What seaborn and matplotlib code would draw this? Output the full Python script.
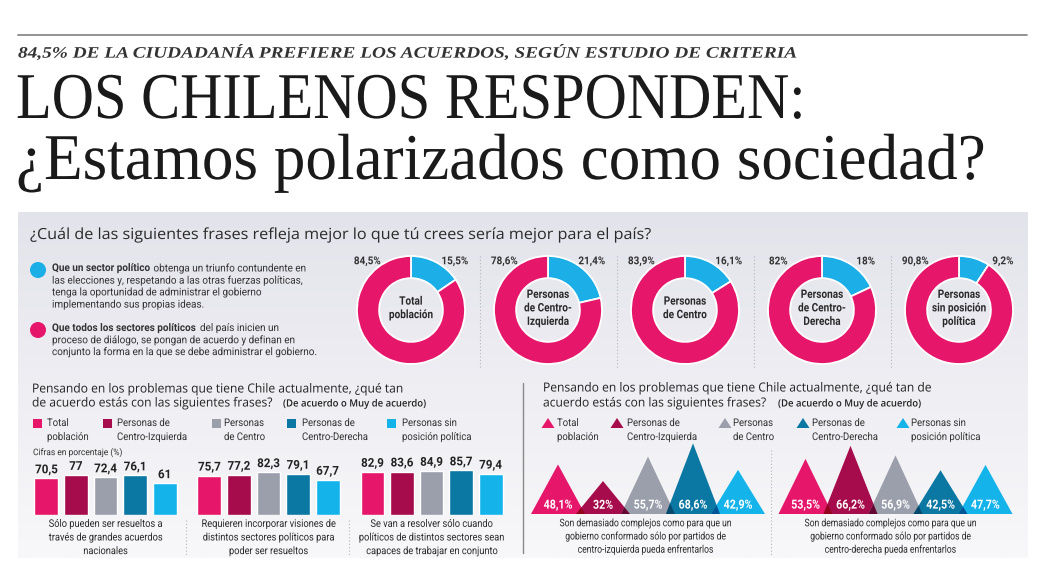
import numpy as np
import pandas as pd
import seaborn as sns
import matplotlib
matplotlib.use("Agg")
import matplotlib.pyplot as plt
import matplotlib.patheffects as pe
from matplotlib.font_manager import FontProperties
from matplotlib.transforms import Affine2D, blended_transform_factory
from matplotlib.patches import Polygon, Rectangle, Circle
from matplotlib.colors import LinearSegmentedColormap, to_rgb

# ---- datos ----
segmentos = ["Total población", "Personas de Centro-Izquierda", "Personas de Centro",
             "Personas de Centro-Derecha", "Personas sin posición política"]
leyenda = ["Total\npoblación", "Personas de\nCentro-Izquierda", "Personas\nde Centro",
           "Personas de\nCentro-Derecha", "Personas sin\nposición política"]
dona_centro = ["Total\npoblación", "Personas\nde Centro-\nIzquierda", "Personas\nde Centro",
               "Personas\nde Centro-\nDerecha", "Personas\nsin posición\npolítica"]
dona_acuerdos = [84.5, 78.6, 83.9, 82, 90.8]
dona_triunfo = [15.5, 21.4, 16.1, 18, 9.2]

frases_barras = ["Sólo pueden ser resueltos a\ntravés de grandes acuerdos\nnacionales",
                 "Requieren incorporar visiones de\ndistintos sectores políticos para\npoder ser resueltos",
                 "Se van a resolver sólo cuando\npolíticos de distintos sectores sean\ncapaces de trabajar en conjunto"]
barras = [[70.5, 77, 72.4, 76.1, 61],
          [75.7, 77.2, 82.3, 79.1, 67.7],
          [82.9, 83.6, 84.9, 85.7, 79.4]]

frases_triang = ["Son demasiado complejos como para que un\ngobierno conformado sólo por partidos de\ncentro-izquierda pueda enfrentarlos",
                 "Son demasiado complejos como para que un\ngobierno conformado sólo por partidos de\ncentro-derecha pueda enfrentarlos"]
triang = [[48.1, 32, 55.7, 68.6, 42.9],
          [53.5, 66.2, 56.9, 42.5, 47.7]]

COL = ["#e6176b", "#a60b4b", "#9b9fac", "#0b77a3", "#14b4ea"]
PINK, CYAN = "#e6176b", "#1caee6"
DARK = "#222222"

SERIF = ["Liberation Serif", "DejaVu Serif"]
SANS = ["Open Sans", "DejaVu Sans"]
COND = ["Roboto", "DejaVu Sans"]


def pct(v):
    s = f"{v:.1f}"
    if s.endswith(".0"):
        s = s[:-2]
    return s.replace(".", ",")


class Stretch(pe.AbstractPathEffect):
    # alarga el texto en vertical sobre su linea base: letra "condensada"
    def __init__(self, sy):
        super().__init__()
        self.sy = sy

    def draw_path(self, renderer, gc, tpath, affine, rgbFace=None):
        y0 = affine.get_matrix()[1, 2]
        t = affine + Affine2D().translate(0, -y0).scale(1, self.sy).translate(0, y0)
        renderer.draw_path(gc, tpath, t, rgbFace)


sns.set_theme(style="white")
plt.rcParams["font.family"] = SANS

W, H = 1042, 561
fig = plt.figure(figsize=(W / 100, H / 100), dpi=100)
fig.patch.set_facecolor("white")
R = fig.canvas.get_renderer()

bg = fig.add_axes([0, 0, 1, 1])
grad = np.linspace(0, 1, 256)[:, None]
cmap = LinearSegmentedColormap.from_list("panel", ["#e3e3eb", "#eeeef3", "#f8f8fa"])
bg.imshow(grad, extent=[18, 1028, 558, 212], cmap=cmap, aspect="auto", zorder=0)
bg.set_xlim(0, W)
bg.set_ylim(H, 0)
bg.axis("off")


def squeeze_for(s, size, target, fam=COND, **kw):
    t = bg.text(0, 0, s, fontsize=size, family=fam, **kw)
    w = t.get_window_extent(R).width
    t.remove()
    return target / w


def spacing(pitch, size, fam, weight="normal"):
    # interlineado de matplotlib que da 'pitch' px entre lineas
    _, h, d = R.get_text_width_height_descent("lp", FontProperties(family=fam, size=size, weight=weight), ismath=False)
    return pitch / (h - d)


def txt(x, y, s, size, fam=SANS, w=None, sq=1.0, ha="left", va="center", ax=None, pitch=None, **kw):
    # size = cuerpo visual; sq < 1 estrecha la letra (cuerpo menor + estiramiento vertical)
    ax = ax or bg
    kw.setdefault("color", DARK)
    if w is not None:
        sq = squeeze_for(s, size, w, fam=fam, **{k: v for k, v in kw.items() if k in ("weight", "style")})
    if pitch is not None:
        kw["linespacing"] = spacing(pitch, size * sq, fam, kw.get("weight", "normal"))
    t = ax.text(x, y, s, fontsize=size * sq, family=fam, ha=ha, va=va, **kw)
    if sq != 1.0:
        t.set_path_effects([Stretch(1 / sq)])
    return t, sq


def runs(x, y, parts, size, sq, fam=COND, color="#333333"):
    for s, bold in parts:
        t, _ = txt(x, y, s, size, fam=fam, sq=sq, weight="bold" if bold else "normal", color=color)
        x += t.get_window_extent(R).width


# ---- cabecera ----
bg.plot([18, 1027], [35, 35], color="#8a8a8a", lw=1.3)
txt(18, 52, "84,5% DE LA CIUDADANÍA PREFIERE LOS ACUERDOS, SEGÚN ESTUDIO DE CRITERIA", 11.5,
    fam=SERIF, w=778, weight="bold", style="italic", color="#333333")
txt(16, 118, "LOS CHILENOS RESPONDEN:", 47, fam=SERIF, w=789, va="baseline", color="#1a1a1a")
txt(16, 179, "¿Estamos polarizados como sociedad?", 47, fam=SERIF, w=969, va="baseline", color="#1a1a1a")

# ---- pregunta 1: donas ----
txt(30, 235, "¿Cuál de las siguientes frases refleja mejor lo que tú crees sería mejor para el país?",
    11, w=622, color="#2a2a2a")

bg.add_patch(Circle((38, 270), 8, color=CYAN, lw=0))
bg.add_patch(Circle((38, 330), 8, color=PINK, lw=0))
psq = squeeze_for("conjunto la forma en la que se debe administrar el gobierno.", 7.6, 265)
parrafo1 = [[("Que un sector político", True), (" obtenga un triunfo contundente en", False)],
            [("las elecciones y, respetando a las otras fuerzas políticas,", False)],
            [("tenga la oportunidad de administrar el gobierno", False)],
            [("implementando sus propias ideas.", False)]]
parrafo2 = [[("Que todos los sectores políticos", True), (" del país inicien un", False)],
            [("proceso de diálogo, se pongan de acuerdo y definan en", False)],
            [("conjunto la forma en la que se debe administrar el gobierno.", False)]]
for k, linea in enumerate(parrafo1):
    runs(52, 268 + 12.2 * k, linea, 7.6, psq)
for k, linea in enumerate(parrafo2):
    runs(52, 328 + 11.8 * k, linea, 7.6, psq)

csq = squeeze_for("sin posición", 8.4, 54, weight="bold")
lsq = squeeze_for("90,8%", 7.8, 27, weight="bold")
for i in range(5):
    cx, cy, r = 411 + 137 * i, 310, 54
    ax = fig.add_axes([(cx - r) / W, (H - cy - r) / H, 2 * r / W, 2 * r / H])
    ax.pie([dona_triunfo[i], dona_acuerdos[i]], colors=[CYAN, PINK], startangle=90,
           counterclock=False, wedgeprops=dict(width=0.41, edgecolor="white", linewidth=1.3))
    ax.set_xlim(-1, 1)
    ax.set_ylim(-1, 1)
    ax.axis("off")
    txt(0, 0.03, dona_centro[i], 8.4, fam=COND, sq=csq, ha="center", ax=ax, weight="bold",
        pitch=11.5, color="#2a2a2a")
    txt(-0.81, 0.9, pct(dona_acuerdos[i]) + "%", 7.8, fam=COND, sq=lsq, ha="center", ax=ax,
        weight="bold", color="#333333")
    txt(0.81, 0.9, pct(dona_triunfo[i]) + "%", 7.8, fam=COND, sq=lsq, ha="center", ax=ax,
        weight="bold", color="#333333")
for i in range(4):
    xs = 411 + 137 * i + 68.5
    bg.plot([xs, xs], [256, 368], color="#b5b5bd", lw=0.8, ls=(0, (1, 2)))

# ---- titulos secciones inferiores ----
_, tsq = txt(32, 389, "Pensando en los problemas que tiene Chile actualmente, ¿qué tan", 9, w=375)
txt(32, 403, "de acuerdo estás con las siguientes frases?", 9, sq=tsq)
_, ksq = txt(283, 404, "(De acuerdo o Muy de acuerdo)", 7.2, w=144, weight="semibold")
txt(543, 388, "Pensando en los problemas que tiene Chile actualmente, ¿qué tan de", 9, sq=tsq)
txt(543, 403, "acuerdo estás con las siguientes frases?", 9, sq=tsq)
txt(778, 404, "(De acuerdo o Muy de acuerdo)", 7.2, sq=ksq, weight="semibold")

# leyendas
gsq = squeeze_for("Centro-Izquierda", 7.6, 70)
for xq, xl, c, lab in zip([33, 103, 212, 287, 387], [47, 117, 224, 302, 402], COL, leyenda):
    bg.add_patch(Rectangle((xq, 419), 9, 9, color=c, lw=0))
    txt(xl, 430, lab, 7.6, fam=COND, sq=gsq, pitch=12, color="#333333")
for xt, xl, c, lab in zip([548, 617, 725, 803, 903], [557, 627, 733, 812, 911], COL, leyenda):
    bg.add_patch(Polygon([(xt - 6.5, 428), (xt, 418), (xt + 6.5, 428)], color=c, lw=0))
    txt(xl, 430, lab, 7.6, fam=COND, sq=gsq, pitch=12, color="#333333")
txt(33, 453, "Cifras en porcentaje (%)", 6.5, fam=COND, w=89, color="#333333")

# ---- barras ----
df = pd.DataFrame({"frase": np.repeat(np.arange(3), 5),
                   "segmento": segmentos * 3,
                   "valor": np.ravel(barras)})
axb = fig.add_axes([18 / W, 46 / H, 504 / W, 60 / H])
sns.barplot(data=df, x="frase", y="valor", hue="segmento", hue_order=segmentos, palette=COL,
            width=0.906, gap=0.19, saturation=1, legend=False, ax=axb)
axb.set_xlim(-0.537, 2.555)
axb.set_ylim(0, 60 / 0.52)
axb.axis("off")
bsq = squeeze_for("70,5", 8.8, 23, weight="bold")
for j, cont in enumerate(axb.containers):
    labs = axb.bar_label(cont, labels=[pct(barras[i][j]) for i in range(3)], padding=1.5,
                         fontsize=8.8 * bsq, family=COND, weight="bold", color=DARK)
    for t in labs:
        t.set_path_effects([Stretch(1 / bsq)])
trb = blended_transform_factory(axb.transData, bg.transData)
fsq = squeeze_for("distintos sectores políticos para", 7.6, 131)
for i, frase in enumerate(frases_barras):
    t = axb.text(i, 538, frase, transform=trb, ha="center", va="center", fontsize=7.6 * fsq,
                 family=COND, linespacing=spacing(11.6, 7.6 * fsq, COND), color="#2a2a2a")
    t.set_path_effects([Stretch(1 / fsq)])
for xs in [186, 349]:
    bg.plot([xs, xs], [520, 556], color="#b5b5bd", lw=0.8, ls=(0, (1, 2)))
bg.plot([523, 523], [383, 553], color="#8a8a8a", lw=1)

# ---- triangulos ----
axt = fig.add_axes([522 / W, 47 / H, 506 / W, 84 / H])
axt.set_xlim(-0.8, 470 / 45)
axt.set_ylim(0, 84 / 1.03)
axt.axis("off")
HW = 0.6
vsq = squeeze_for("48,1%", 9, 29, weight="bold")
for g, vals in enumerate(triang):
    xs = [g * 5.5 + i for i in range(5)]
    for i, (x, v) in enumerate(zip(xs, vals)):
        axt.add_patch(Polygon([(x - HW, 0), (x, v), (x + HW, 0)], closed=True, fc=COL[i], ec="none"))
    for i in range(4):
        x1, v1, x2, v2 = xs[i], vals[i], xs[i + 1], vals[i + 1]
        xi = (v1 * (x1 + HW) + v2 * (x2 - HW)) / (v1 + v2)
        yi = v1 * (x1 + HW - xi) / HW
        mix = tuple(a * b for a, b in zip(to_rgb(COL[i]), to_rgb(COL[i + 1])))
        axt.add_patch(Polygon([(x2 - HW, 0), (xi, yi), (x1 + HW, 0)], closed=True, fc=mix, ec="none"))
    for x, v in zip(xs, vals):
        t = axt.text(x, 8, pct(v) + "%", ha="center", va="center", fontsize=9 * vsq, family=COND,
                     weight="bold", color="white")
        t.set_path_effects([Stretch(1 / vsq)])
qsq = squeeze_for("Son demasiado complejos como para que un", 7.6, 172)
for cx, frase in zip([645, 890], frases_triang):
    txt(cx, 537, frase, 7.6, fam=COND, sq=qsq, ha="center", pitch=11.2, color="#2a2a2a")
bg.plot([771, 771], [450, 556], color="#b5b5bd", lw=0.8, ls=(0, (1, 2)))

fig.savefig("out.png", dpi=100, facecolor="white")
